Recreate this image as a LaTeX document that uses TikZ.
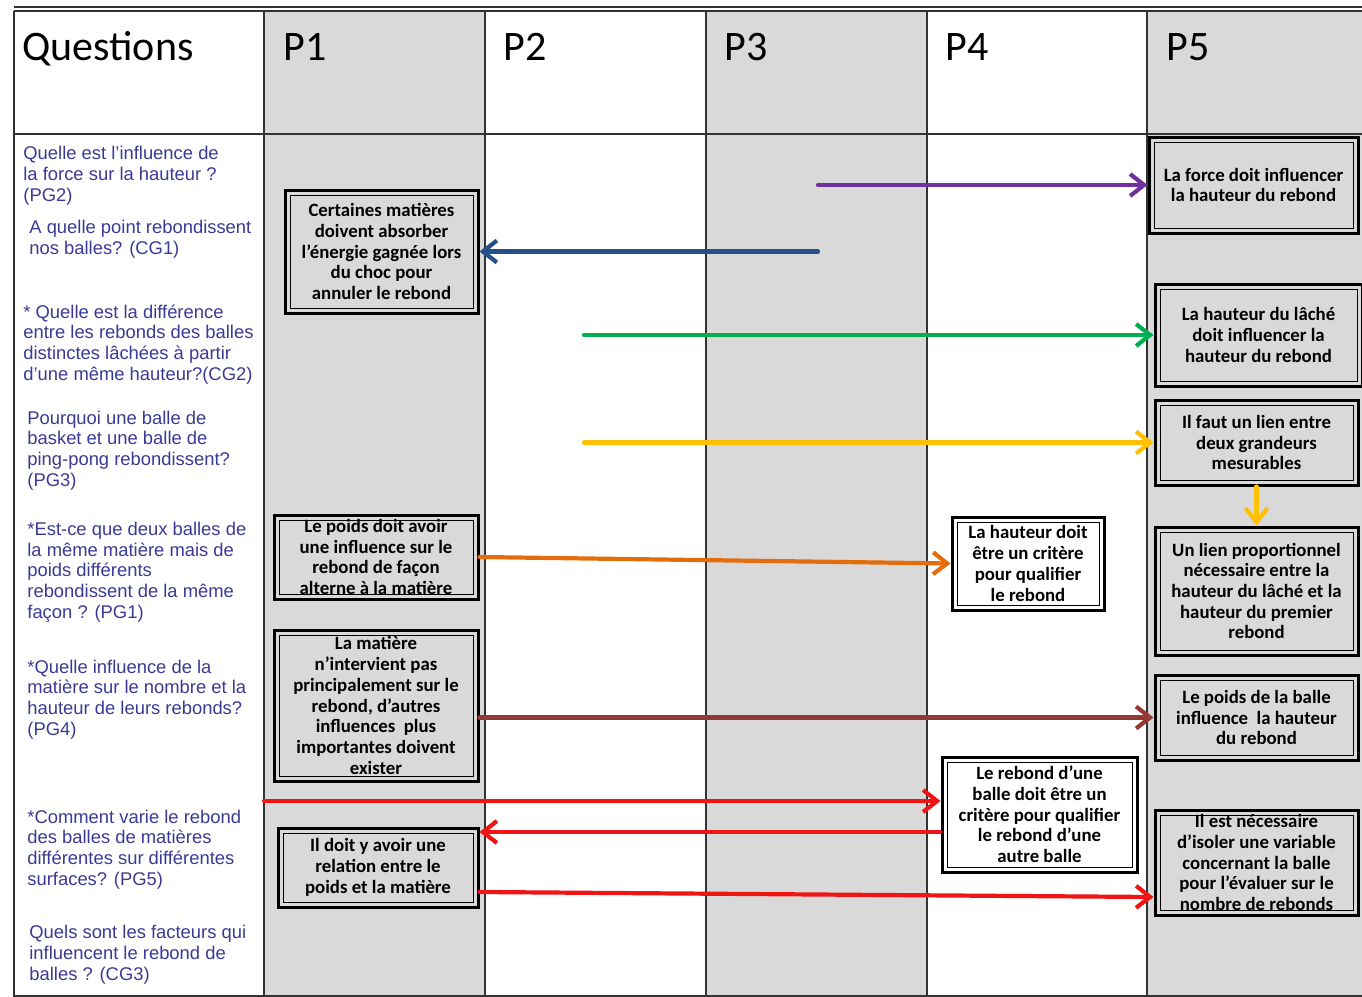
\documentclass[tikz,border=0pt]{standalone}
\usepackage{fontspec}
\setmainfont{Liberation Sans}
\newfontfamily\cfont{Carlito}
\usetikzlibrary{arrows.meta,calc}
\definecolor{colgray}{HTML}{D9D9D9}
\definecolor{qblue}{HTML}{3A3A96}
\definecolor{apurple}{HTML}{7030A0}
\definecolor{ablue}{HTML}{25508A}
\definecolor{agreen}{HTML}{00B050}
\definecolor{ayellow}{HTML}{FFC000}
\definecolor{aorange}{HTML}{E46C0A}
\definecolor{abrown}{HTML}{953735}
\definecolor{ared}{HTML}{F01414}
\begin{document}
\begin{tikzpicture}[x=0.5pt,y=-0.5pt,
  hyp/.style={draw, line width=1.5pt, fill=colgray, align=center, inner sep=0pt,
    font=\cfont\bfseries\fontsize{9.4}{10.35}\selectfont,
    path picture={\draw[line width=0.5pt] ([shift={(2.5pt,-2.5pt)}]path picture bounding box.north west) rectangle ([shift={(-2.5pt,2.5pt)}]path picture bounding box.south east);}},
  hypw/.style={hyp, fill=white},
  ques/.style={anchor=base west, align=left, inner sep=0pt, text=qblue,
    font=\fontsize{9.2}{10.3}\selectfont},
  head/.style={anchor=base west, inner sep=0pt, font=\cfont\fontsize{21}{24}\selectfont},
  grid/.style={line width=1pt, black!80},
  arr/.style={line width=2.1pt, -{Straight Barb[length=7pt,width=11pt]}, line cap=round}
]
\useasboundingbox (0,0) rectangle (1362,997);
% column shading
\fill[colgray] (264,11) rectangle (485,997);
\fill[colgray] (706,11) rectangle (927,997);
\fill[colgray] (1147,11) rectangle (1362,997);
% grid
\draw[grid] (14,7) -- (1362,7);
\draw[grid] (14,11) -- (1362,11);
\draw[grid] (14,134) -- (1362,134);
\draw[grid] (14,996) -- (1362,996);
\foreach \x in {14,264,485,706,927,1147} \draw[grid] (\x,11) -- (\x,997);
% header
\node[head] (hq) at (22,60) {Questions};
\node[head] (h1) at (283,60) {P1};
\node[head] (h2) at (503,60) {P2};
\node[head] (h3) at (724,60) {P3};
\node[head] (h4h) at (945,60) {P4};
\node[head] (h5) at (1166,60) {P5};
% questions (anchored at the baseline of their last line)
\node[ques] (Q1) at (23,201) {Quelle est l’influence de\\la force sur la hauteur ?\\(PG2)};
\node[ques] (Q2) at (29,254) {A quelle point rebondissent\\nos balles? (CG1)};
\node[ques] (Q3) at (23,380) {* Quelle est la différence\\entre les rebonds des balles\\distinctes lâchées à partir\\d’une même hauteur?(CG2)};
\node[ques] (Q4) at (27,486) {Pourquoi une balle de\\basket et une balle de\\ping-pong rebondissent?\\(PG3)};
\node[ques] (Q5) at (27,618) {*Est-ce que deux balles de\\la même matière mais de\\poids différents\\rebondissent de la même\\façon ? (PG1)};
\node[ques] (Q6) at (27,735) {*Quelle influence de la\\matière sur le nombre et la\\hauteur de leurs rebonds?\\(PG4)};
\node[ques] (Q7) at (27,885) {*Comment varie le rebond\\des balles de matières\\différentes sur différentes\\surfaces? (PG5)};
\node[ques] (Q8) at (29,980) {Quels sont les facteurs qui\\influencent le rebond de\\balles ? (CG3)};
% hypothesis boxes
\node[hyp, minimum width=96.5pt, minimum height=61.5pt] (b1) at (381.5,251.5) {Certaines matières\\doivent absorber\\l’énergie gagnée lors\\du choc pour\\annuler le rebond};
\node[hyp, minimum width=104.5pt, minimum height=48pt] (q1) at (1253.5,185) {La force doit influencer\\la hauteur du rebond};
\node[hyp, minimum width=103.5pt, minimum height=51pt] (q2) at (1258.5,335) {La hauteur du lâché\\doit influencer la\\hauteur du rebond};
\node[hyp, minimum width=101.5pt, minimum height=42.5pt] (q3) at (1256.5,442.5) {Il faut un lien entre\\deux grandeurs\\mesurables};
\node[hyp, minimum width=101.5pt, minimum height=64pt] (q4) at (1256.5,591) {Un lien proportionnel\\nécessaire entre la\\hauteur du lâché et la\\hauteur du premier\\rebond};
\node[hyp, minimum width=101.5pt, minimum height=42.5pt] (q5) at (1256.5,717.5) {Le poids de la balle\\influence~ la hauteur\\du rebond};
\node[hyp, minimum width=101.5pt, minimum height=52.5pt] (q6) at (1256.5,862.5) {Il est nécessaire\\d’isoler une variable\\concernant la balle\\pour l’évaluer sur le\\nombre de rebonds};
\node[hyp, minimum width=102pt, minimum height=42pt] (pA) at (376,557) {Le poids doit avoir\\une influence sur le\\rebond de façon\\alterne à la matière};
\node[hyp, minimum width=102pt, minimum height=75.5pt] (pB) at (376,705.5) {La matière\\n’intervient pas\\principalement sur le\\rebond, d’autres\\influences~ plus\\importantes doivent\\exister};
\node[hyp, minimum width=100pt, minimum height=39.5pt] (pC) at (378,867.5) {Il doit y avoir une\\relation entre le\\poids et la matière};
\node[hypw, minimum width=76pt, minimum height=46.5pt] (h4) at (1028,563.5) {La hauteur doit\\être un critère\\pour qualifier\\le rebond};
\node[hypw, minimum width=97.5pt, minimum height=57.5pt] (r4) at (1039.5,814.5) {Le rebond d’une\\balle doit être un\\critère pour qualifier\\le rebond d’une\\autre balle};
% free ends
\coordinate (pu) at (818,185);
\coordinate (bl) at (818,251.5);
\coordinate (gr) at (584,335);
\coordinate (ye) at (584,442.5);
\coordinate (rs) at (264,801);
\coordinate (rm) at (700,832);
\coordinate (rb1) at (700,892);
\coordinate (rb2) at (700,897);
% arrows
\draw[arr, apurple] (pu) -- (q1.west);
\draw[arr, ablue] (bl) -- (b1.east);
\draw[arr, agreen] (gr) -- (q2.west);
\draw[arr, ayellow] (ye) -- (q3.west);
\draw[arr, ayellow] (q3.south) -- (q4.north);
\draw[arr, aorange] (pA.east) -- (h4.west);
\draw[arr, abrown] (pB.east |- q5.west) -- (q5.west);
\draw[arr, ared] (rs) -- (r4.west |- rs);
\draw[arr, ared] (r4.west |- rm) -- (pC.east |- rm);
\draw[arr, ared] (pC.east |- rb1) -- (q6.west |- rb2);
\end{tikzpicture}
\end{document}
